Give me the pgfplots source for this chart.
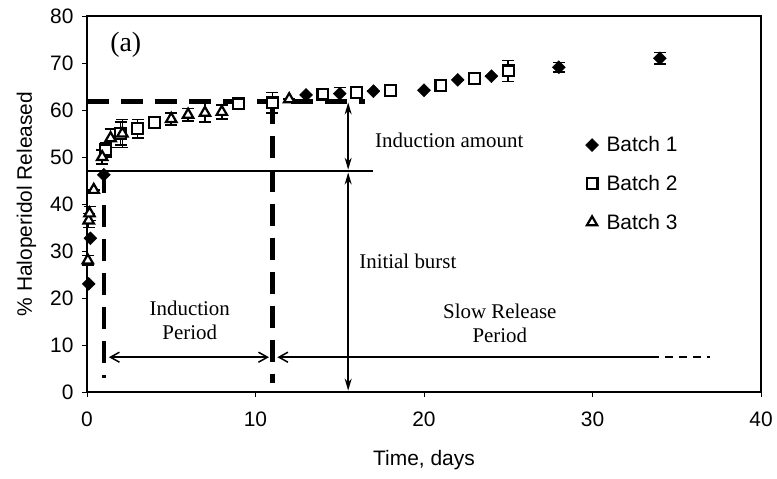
\documentclass[border=0pt]{standalone}
\usepackage{fontspec}
\setmainfont{Liberation Serif}
\setsansfont{Liberation Sans}
\usepackage{pgfplots}
\pgfplotsset{compat=1.18}
\usetikzlibrary{arrows.meta}

\pgfplotstableread{
x y e
0.1 23 0
0.2 32.7 0
1.0 46.2 0
13 63.2 0
15 63.5 1.3
17 64.0 0
20 64.2 0
22 66.4 0
24 67.2 0
28 69.1 1.0
34 71.0 1.2
}\batchA

\pgfplotstableread{
x y e
1.1 51.5 1.5
2 55.0 2.5
3 56.0 2.0
4 57.3 0
9 61.3 1.2
11 61.5 2.2
14 63.4 0
16 63.7 1.2
18 64.1 0
21 65.2 0
23 66.7 0
25 68.3 2.2
}\batchB

\pgfplotstableread{
x y e
0.05 28.0 1.0
0.1 36.5 1.5
0.15 38.0 1.5
0.4 43.0 0
0.9 50.0 1.5
1.4 54.0 2.0
2.1 55.0 3.0
5 58.1 1.3
6 59.0 1.3
7 59.4 2.0
8 59.6 1.5
12 62.3 0
}\batchC

\begin{document}
\begin{tikzpicture}
\begin{axis}[
  width=674bp, height=376bp, scale only axis,
  xmin=0, xmax=40, ymin=0, ymax=80,
  xtick={0,10,...,40}, ytick={0,10,...,80},
  tick align=outside, tick pos=left,
  major tick length=5bp,
  axis line style={line width=1.5bp},
  every tick/.style={line width=0.9bp, black},
  /pgf/number format/assume math mode=true,
  tick label style={font=\sffamily\fontsize{21}{25}\selectfont},
  xticklabel style={yshift=-11bp},
  yticklabel style={xshift=-5bp},
  label style={font=\sffamily\fontsize{21}{25}\selectfont},
  xlabel={Time, days},
  ylabel={\% Haloperidol Released},
  x label style={at={(axis description cs:0.5,-0.182)}, anchor=center},
  y label style={at={(axis description cs:-0.09,0.5)}, anchor=center},
  clip=false,
  legend style={at={(axis cs:29.4,55.2)}, anchor=north west, draw=none, fill=none,
    font=\sffamily\fontsize{21}{25}\selectfont, row sep=18bp,
    /tikz/every odd column/.append style={column sep=6bp}},
  legend cell align=left,
]
% annotation lines
\draw[line width=4.5bp, dash pattern=on 22bp off 12bp] (axis cs:0,61.8) -- (axis cs:16.5,61.8);
\draw[line width=1.5bp] (axis cs:0,47) -- (axis cs:17,47);
\draw[line width=4.5bp, dash pattern=on 22bp off 12bp] (axis cs:1.0,47) -- (axis cs:1.0,3);
\draw[line width=4.5bp, dash pattern=on 22bp off 12bp] (axis cs:11,61.8) -- (axis cs:11,2);
\draw[line width=1.5bp, {Straight Barb[length=9bp,width=10bp]}-{Straight Barb[length=9bp,width=10bp]}]
  (axis cs:1.3,7.4) -- (axis cs:10.8,7.4);
\draw[line width=1.5bp, {Straight Barb[length=9bp,width=10bp]}-] (axis cs:11.3,7.4) -- (axis cs:33.5,7.4);
\draw[line width=1.5bp, dash pattern=on 8bp off 6bp] (axis cs:33.5,7.4) -- (axis cs:37,7.4);
\draw[line width=1.5bp, {Stealth[length=12bp,width=7bp]}-{Stealth[length=12bp,width=7bp]}]
  (axis cs:15.5,61.6) -- (axis cs:15.5,47.3);
\draw[line width=1.5bp, {Stealth[length=12bp,width=7bp]}-{Stealth[length=12bp,width=7bp]}]
  (axis cs:15.5,46.7) -- (axis cs:15.5,0.3);
% texts
\node[font=\fontsize{28}{32}\selectfont] at (axis cs:2.3,73.8) {(a)};
\node[font=\fontsize{21}{25}\selectfont] at (axis cs:21.5,53.6) {Induction amount};
\node[font=\fontsize{21}{25}\selectfont, anchor=west, inner sep=0pt] at (axis cs:16.15,27.7) {Initial burst};
\node[font=\fontsize{21}{24}\selectfont, align=center] at (axis cs:6.1,15.3) {Induction\\Period};
\node[font=\fontsize{21}{24}\selectfont, align=center] at (axis cs:24.5,14.6) {Slow Release\\Period};

% error bars
\addplot[forget plot, only marks, mark=none, black,
  error bars/.cd, y dir=both, y explicit,
  error bar style={line width=1.6bp, black},
  error mark options={rotate=90, mark size=6bp, line width=1.6bp, black}]
  table[x=x, y=y, y error=e] \batchA;
\addplot[forget plot, only marks, mark=none, black,
  error bars/.cd, y dir=both, y explicit,
  error bar style={line width=1.6bp, black},
  error mark options={rotate=90, mark size=6bp, line width=1.6bp, black}]
  table[x=x, y=y, y error=e] \batchB;
\addplot[forget plot, only marks, mark=none, black,
  error bars/.cd, y dir=both, y explicit,
  error bar style={line width=1.6bp, black},
  error mark options={rotate=90, mark size=6bp, line width=1.6bp, black}]
  table[x=x, y=y, y error=e] \batchC;

% markers
\addplot[only marks, mark=diamond*, mark size=6.5bp, black, mark options={fill=black, xscale=1.33}]
  table[x=x, y=y] \batchA;
\addlegendentry{Batch 1}
\addplot[only marks, mark=square*, mark size=5.4bp, mark options={fill=white, draw=black, line width=2.2bp}]
  table[x=x, y=y] \batchB;
\addlegendentry{Batch 2}
\addplot[only marks, mark=triangle*, mark size=6bp, mark options={fill=white, draw=black, line width=2.2bp}]
  table[x=x, y=y] \batchC;
\addlegendentry{Batch 3}
\end{axis}
\pgfresetboundingbox
\path[use as bounding box] ([xshift=-87bp,yshift=-87bp]current axis.south west) rectangle ([xshift=16bp,yshift=16bp]current axis.north east);
\end{tikzpicture}
\end{document}
